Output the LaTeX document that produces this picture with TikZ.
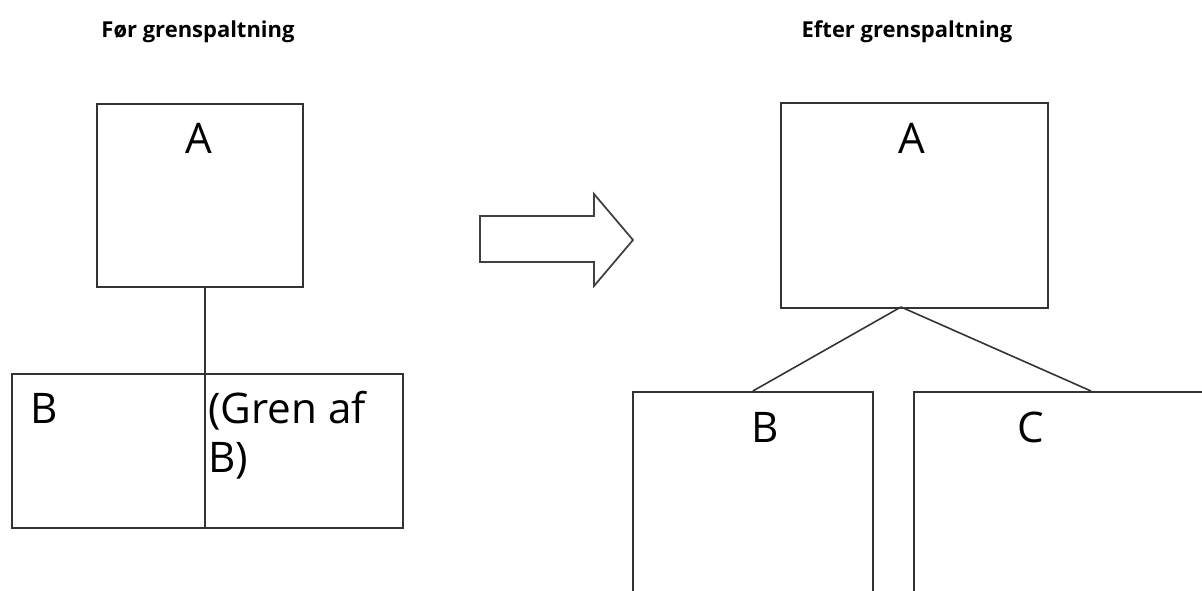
\documentclass[tikz,border=0pt]{standalone}
\usepackage{fontspec}
\setmainfont{Open Sans}
\usetikzlibrary{positioning}
\tikzset{
  kasse/.style={draw=black!80, line width=1pt, inner sep=0pt, anchor=north west},
  bogstav/.style={font=\fontsize{24}{28}\selectfont, inner sep=0pt, anchor=base},
  titel/.style={font=\bfseries\fontsize{12.5}{15}\selectfont, inner sep=0pt, anchor=base},
  streg/.style={draw=black!80, line width=0.9pt}
}
\begin{document}
\begin{tikzpicture}
    \useasboundingbox (0,0) rectangle (24.04,11.8);
    \clip (0,0) rectangle (24.04,11.8);
    % Overskrifter
    \node[titel] (tFoer)  at (3.96,11.04)  {Før grenspaltning};
    \node[titel] (tEfter) at (18.14,11.04) {Efter grenspaltning};
    % Foer grenspaltning
    \node[kasse, minimum width=4.12cm, minimum height=3.66cm] (lA) at (1.92,9.74) {};
    \node[kasse, minimum width=7.82cm, minimum height=3.08cm] (lB) at (0.22,4.34) {};
    \node[bogstav] (lAtxt) at (3.97,8.72) {A};
    \node[bogstav, anchor=base west] (lBtxt) at (0.6,3.34) {B};
    \node[bogstav, anchor=north west, align=left] (lGren) at (4.16,3.98) {(Gren af\\B)};
    % Stamme fra A ned gennem B
    \coordinate (split) at (4.1,1.26);
    \draw[streg] (split |- lA.south) -- (split);
    % Pil
    \draw[draw=black!75, line width=1pt, line join=miter]
        (9.6,7.48) -- (11.88,7.48) -- (11.88,7.92) -- (12.66,7.0)
        -- (11.88,6.08) -- (11.88,6.56) -- (9.6,6.56) -- cycle;
    % Efter grenspaltning
    \node[kasse, minimum width=5.34cm, minimum height=4.1cm] (rA) at (15.6,9.76) {};
    \node[kasse, minimum width=4.8cm, minimum height=6cm] (rB) at (12.64,3.98) {};
    \node[kasse, minimum width=6.8cm, minimum height=6cm] (rC) at (18.26,3.98) {};
    \node[bogstav] (rAtxt) at (18.24,8.72) {A};
    \node[bogstav] (rBtxt) at (15.3,2.94) {B};
    \node[bogstav] (rCtxt) at (20.62,2.94) {C};
    % Grene
    \coordinate (fork) at (18.02,5.66);
    \coordinate (cTop) at (21.82,3.98);
    \draw[streg] (fork) -- (rB.north);
    \draw[streg] (fork) -- (cTop);
\end{tikzpicture}
\end{document}
